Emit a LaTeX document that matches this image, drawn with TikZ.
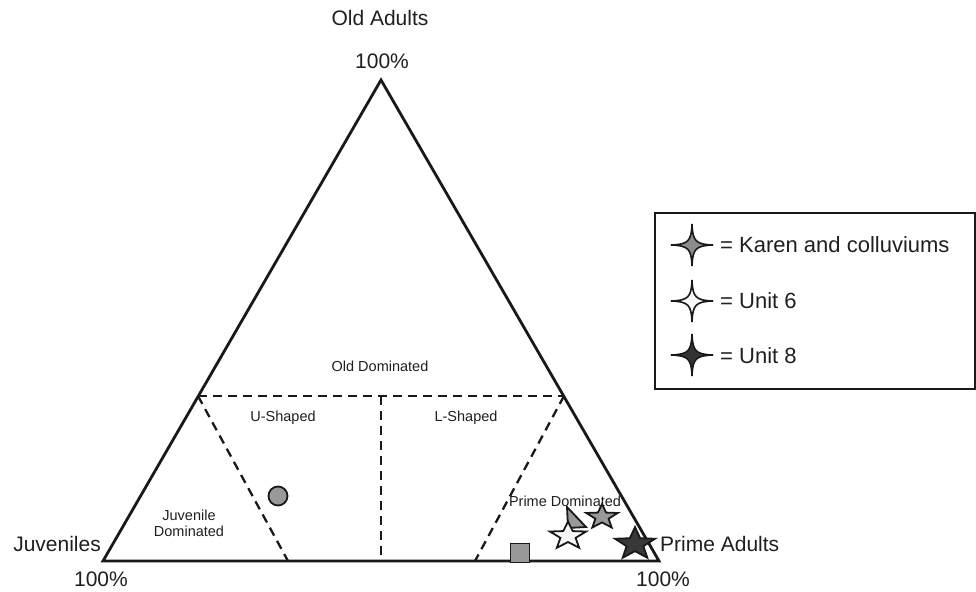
\documentclass[tikz,border=0pt]{standalone}
\usepackage{fontspec}
\setmainfont{Liberation Sans}
\begin{document}
\begin{tikzpicture}[x=1pt,y=-1pt,
  big/.style={font=\fontsize{21}{25}\selectfont, text=black!88, inner sep=0pt},
  small/.style={font=\fontsize{14.5}{16}\selectfont, text=black!88, inner sep=0pt, align=center},
  legtext/.style={font=\fontsize{22}{26}\selectfont, text=black!88, inner sep=0pt, anchor=west},
  outline/.style={line width=2.8pt, line join=miter, black!90},
  zone/.style={line width=2.3pt, dash pattern=on 9pt off 6pt, black!90},
  datamark/.style={line width=1.8pt, draw=black!90},
  fivestar/.pic={\draw[pic actions] (-90:1) -- (-54:0.42) -- (-18:1) -- (18:0.42) -- (54:1) -- (90:0.42) -- (126:1) -- (162:0.42) -- (198:1) -- (234:0.42) -- cycle;},
  fourstar/.pic={\draw[pic actions] (0:1) .. controls (0.18,0.03) and (0.03,0.18) .. (90:1) .. controls (-0.03,0.18) and (-0.18,0.03) .. (180:1) .. controls (-0.18,-0.03) and (-0.03,-0.18) .. (270:1) .. controls (0.03,-0.18) and (0.18,-0.03) .. cycle;}
]
\useasboundingbox (0,0) rectangle (976,591);
% triangle vertices
\coordinate (A) at (381,80);
\coordinate (L) at (103,561);
\coordinate (R) at (659,561);
% zone points
\coordinate (hl) at (198,396);
\coordinate (hr) at (564,396);
\coordinate (hm) at (381,396);
\coordinate (bm) at (381,561);
\coordinate (bl) at (288,561);
\coordinate (br) at (475,561);
\draw[outline] (A) -- (L) -- (R) -- cycle;
\draw[zone] (hl) -- (hr);
\draw[zone] (hm) -- (bm);
\draw[zone] (hl) -- (bl);
\draw[zone] (hr) -- (br);
% labels
\node[big] (oldad) at (380,18) {Old Adults};
\node[big] (topp) at (382,61) {100\%};
\node[big, anchor=east] (juv) at (101,544) {Juveniles};
\node[big] (leftp) at (101,579) {100\%};
\node[big, anchor=west] (prime) at (660,544) {Prime Adults};
\node[big] (rightp) at (663,579) {100\%};
\node[small] (olddom) at (380,366) {Old Dominated};
\node[small] (ushape) at (283,418) {U-Shaped};
\node[small] (lshape) at (466,418) {L-Shaped};
\node[small] (juvdom) at (189,523) {Juvenile\\Dominated};
\node[small] (primedom) at (565,501) {Prime Dominated};
% data markers
\node[datamark, circle, fill=black!40, minimum size=19pt, inner sep=0pt] (circ) at (278,496) {};
\node[datamark, rectangle, fill=black!40, minimum size=19pt, inner sep=0pt] (sq) at (520,553) {};
\filldraw[datamark, fill=black!40] (567,507) -- (568,528) -- (586,527) -- cycle;
\pic[datamark, fill=black!40, xscale=16.5, yscale=13] (gstar) at (602,517) {fivestar};
\pic[datamark, fill=black!3, xscale=19, yscale=14.5] (wstar) at (568,536) {fivestar};
\pic[datamark, fill=black!78, xscale=21, yscale=17] (bstar) at (635,544) {fivestar};
% legend
\node[draw=black!90, line width=2.2pt, minimum width=320pt, minimum height=176pt, anchor=north west, inner sep=0pt] (legend) at (654,212) {};
\pic[line width=1.6pt, draw=black!90, fill=black!45, scale=21] (lk) at (692,245) {fourstar};
\pic[line width=1.6pt, draw=black!90, fill=black!3, scale=21] (l6) at (692,301) {fourstar};
\pic[line width=1.6pt, draw=black!90, fill=black!80, scale=21] (l8) at (692,355) {fourstar};
\node[legtext] (tk) at (720,245) {= Karen and colluviums};
\node[legtext] (t6) at (720,301) {= Unit 6};
\node[legtext] (t8) at (720,356) {= Unit 8};
\end{tikzpicture}
\end{document}
